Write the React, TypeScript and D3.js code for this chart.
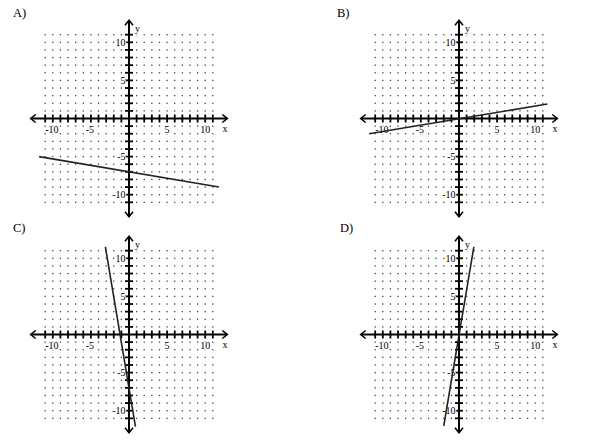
import React, { useRef, useEffect } from "react";
import * as d3 from "d3";

// panel letters, in reading order
const panelLabels = ["A)", "B)", "C)", "D)"];

// each answer graph is a straight line: its two visible end points
const lineA = [
  { x: -11.8, y: -5.0 },
  { x: 11.8, y: -9.0 },
];
const lineB = [
  { x: -11.8, y: -2.0 },
  { x: 11.6, y: 1.9 },
];
const lineC = [
  { x: -3.1, y: 11.5 },
  { x: 0.85, y: -12.1 },
];
const lineD = [
  { x: -2.0, y: -12.0 },
  { x: 1.95, y: 11.5 },
];
const lines = [lineA, lineB, lineC, lineD];

// grid and tick values
const gridValues = d3.range(-11, 12);
const tickValues = d3.range(-11, 12).filter((v) => v !== 0);
const labelValues = [-10, -5, 5, 10];

const W = 600;
const H = 440;
const unit = 7.62;
const origins = [
  [129, 118.5],
  [459, 118.5],
  [129, 334.5],
  [459, 334.5],
];
const labelPos = [
  [13, 17],
  [337, 17],
  [13, 232],
  [340, 232],
];
const serif = "'Liberation Serif', 'Times New Roman', serif";

const App = () => {
  const svgRef = useRef(null);

  useEffect(() => {
    const svg = d3.select(svgRef.current);
    svg.selectAll("*").remove();

    svg.append("rect").attr("width", W).attr("height", H).attr("fill", "white");

    origins.forEach(([ox, oy], i) => {
      const x = d3.scaleLinear().domain([-1, 1]).range([ox - unit, ox + unit]);
      const y = d3.scaleLinear().domain([-1, 1]).range([oy + unit, oy - unit]);
      const g = svg.append("g");

      // panel letter
      svg
        .append("text")
        .attr("x", labelPos[i][0])
        .attr("y", labelPos[i][1])
        .style("font-family", serif)
        .style("font-size", "12.5px")
        .text(panelLabels[i]);

      // dotted grid
      gridValues.forEach((gx) => {
        gridValues.forEach((gy) => {
          g.append("rect")
            .attr("x", x(gx) - 0.65)
            .attr("y", y(gy) - 0.65)
            .attr("width", 1.3)
            .attr("height", 1.3)
            .attr("fill", "#444");
        });
      });

      // axes
      g.append("line")
        .attr("x1", x(-12.9))
        .attr("x2", x(12.9))
        .attr("y1", y(0))
        .attr("y2", y(0))
        .attr("stroke", "black")
        .attr("stroke-width", 2);
      g.append("line")
        .attr("x1", x(0))
        .attr("x2", x(0))
        .attr("y1", y(-12.9))
        .attr("y2", y(12.9))
        .attr("stroke", "black")
        .attr("stroke-width", 2);

      // arrow heads
      const arrow = (tx, ty, dx, dy) => {
        const px = -dy;
        const py = dx;
        g.append("path")
          .attr(
            "d",
            `M${tx - dx * 5 + px * 4},${ty - dy * 5 + py * 4}L${tx},${ty}L${tx - dx * 5 - px * 4},${ty - dy * 5 - py * 4}`
          )
          .attr("fill", "none")
          .attr("stroke", "black")
          .attr("stroke-width", 1.6);
      };
      arrow(x(12.9), y(0), 1, 0);
      arrow(x(-12.9), y(0), -1, 0);
      arrow(x(0), y(12.9), 0, -1);
      arrow(x(0), y(-12.9), 0, 1);

      // ticks
      tickValues.forEach((v) => {
        g.append("line")
          .attr("x1", x(v))
          .attr("x2", x(v))
          .attr("y1", y(0) - 4)
          .attr("y2", y(0) + 4)
          .attr("stroke", "black")
          .attr("stroke-width", 1.8);
        g.append("line")
          .attr("x1", x(0) - 4)
          .attr("x2", x(0) + 4)
          .attr("y1", y(v))
          .attr("y2", y(v))
          .attr("stroke", "black")
          .attr("stroke-width", 1.8);
      });

      // tick labels
      const lab = (t) =>
        t
          .style("font-family", serif)
          .style("font-size", "10px")
          .attr("fill", "black")
          .attr("stroke", "white")
          .attr("stroke-width", 2)
          .attr("paint-order", "stroke");
      labelValues.forEach((v) => {
        lab(g.append("text"))
          .attr("x", x(v) + (v < 0 ? -1 : 0))
          .attr("y", y(0) + 14.5)
          .attr("text-anchor", "middle")
          .text(String(v));
        lab(g.append("text"))
          .attr("x", x(0) - 3.5)
          .attr("y", y(v) + 3.5)
          .attr("text-anchor", "end")
          .text(String(v));
      });
      lab(g.append("text"))
        .attr("x", x(12.6))
        .attr("y", y(0) + 13)
        .attr("text-anchor", "middle")
        .text("x");
      lab(g.append("text"))
        .attr("x", x(0) + 6)
        .attr("y", y(11.4))
        .text("y");

      // the graphed line
      g.append("path")
        .datum(lines[i])
        .attr(
          "d",
          d3
            .line()
            .x((d) => x(d.x))
            .y((d) => y(d.y))
        )
        .attr("fill", "none")
        .attr("stroke", "#222")
        .attr("stroke-width", 1.6);
    });
  }, []);

  return (
    <svg
      ref={svgRef}
      width={W}
      height={H}
      style={{ position: "absolute", left: 0, top: 0 }}
    />
  );
};

export default App;
